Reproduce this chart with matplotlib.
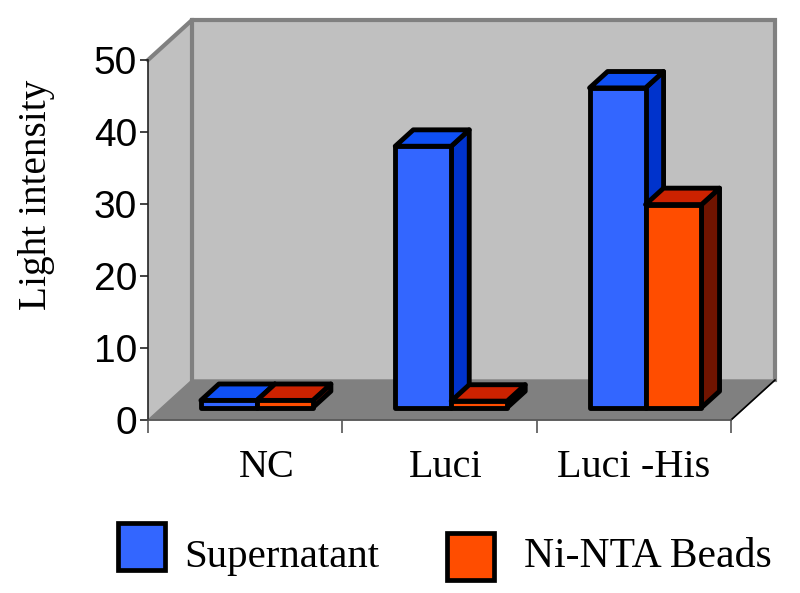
import matplotlib
matplotlib.use("Agg")
import matplotlib.pyplot as plt
from matplotlib.patches import Polygon, Rectangle
from matplotlib.transforms import Affine2D

categories = ["NC", "Luci", "Luci -His"]
supernatant = [1.0, 36.3, 44.4]
beads = [1.0, 0.9, 28.2]
series_names = ["Supernatant", "Ni-NTA Beads"]
y_ticks = [0, 10, 20, 30, 40, 50]
x_edges = [0, 1, 2, 3]
label_pos = [0.61, 1.53, 2.5]

W, H = 800, 593
fig = plt.figure(figsize=(W / 100, H / 100), dpi=100, facecolor="white")
ax = fig.add_axes([148 / W, 1 - 420 / H, 583 / W, 360 / H])
ax.set_xlim(0, 3)
ax.set_ylim(0, 50)
ax.patch.set_visible(False)

DX, DY = 44 / 194.33, 40 / 7.2   # full chart depth, data units
D0, D1 = 0.31, 0.72              # bar depth span
BW = 0.288
SHIFT = -0.010


def P(x, y, d):
    return (x + d * DX, y + d * DY)


def poly(pts, fc, ec, lw, z):
    ax.add_patch(Polygon(pts, closed=True, facecolor=fc, edgecolor=ec, linewidth=lw,
                         joinstyle="round", clip_on=False, zorder=z))


# walls and floor
GR = "#808080"
poly([P(0, 0, 0), P(0, 50, 0), P(0, 50, 1), P(0, 0, 1)], "#C0C0C0", "none", 0, 1)
poly([P(0, 0, 1), P(0, 50, 1), P(3, 50, 1), P(3, 0, 1)], "#C0C0C0", "none", 0, 1)
poly([P(0, 0, 0), P(3, 0, 0), P(3, 0, 1), P(0, 0, 1)], GR, GR, 1, 2)
rim = [P(0, 50, 0), P(0, 50, 1), P(3, 50, 1), P(3, 0, 1)]
ax.plot([p[0] for p in rim], [p[1] for p in rim], color=GR, lw=3.0, clip_on=False,
        zorder=1.5, solid_joinstyle="miter")
inner = [P(0, 50, 1), P(0, 0, 1)]
ax.plot([p[0] for p in inner], [p[1] for p in inner], color=GR, lw=3.0, clip_on=False, zorder=1.5)
edge = [P(3, 0, 0), P(3, 0, 1)]
ax.plot([p[0] for p in edge], [p[1] for p in edge], color="black", lw=1.2, clip_on=False, zorder=3)


def bar(x, v, front, top, side, z):
    e = "black"
    lw = 3.5
    poly([P(x + BW, 0, D0), P(x + BW, v, D0), P(x + BW, v, D1), P(x + BW, 0, D1)], side, e, lw, z)
    poly([P(x, v, D0), P(x + BW, v, D0), P(x + BW, v, D1), P(x, v, D1)], top, e, lw, z)
    poly([P(x, 0, D0), P(x + BW, 0, D0), P(x + BW, v, D0), P(x, v, D0)], front, e, lw, z)


BLUE = ("#3366FF", "#0F50F5", "#0033CC")
ORANGE = ("#FF4D00", "#CC2200", "#701400")
for i in range(len(categories)):
    left = x_edges[i] + 0.5 - BW + SHIFT
    bar(left, supernatant[i], *BLUE, 5 + i)
    bar(left + BW, beads[i], *ORANGE, 5 + i + 0.5)

for s in ("top", "right"):
    ax.spines[s].set_visible(False)
ax.spines["left"].set_linewidth(1.2)
ax.spines["bottom"].set_linewidth(1.2)
ax.spines["left"].set_color("#222222")
ax.spines["bottom"].set_color("#555555")
ax.spines["left"].set_zorder(20)
ax.spines["bottom"].set_zorder(20)

ax.set_yticks(y_ticks)
ax.tick_params(axis="y", length=6, width=1.2, color="#222222", pad=2, labelsize=28)
for t in ax.get_yticklabels():
    t.set_family("Liberation Sans")
ax.set_xticks(x_edges)
ax.set_xticklabels([])
ax.tick_params(axis="x", which="major", length=9, width=1.2, color="#555555")
ax.set_xticks(label_pos, labels=categories, minor=True)
ax.tick_params(axis="x", which="minor", length=0, pad=21, labelsize=29)
for t in ax.get_xticklabels(minor=True):
    t.set_family("Liberation Serif")

fig.text(37 / W, 1 - 195 / H, "Light intensity", rotation=90, ha="center", va="center",
         family="Liberation Serif", fontsize=28.3)

# legend
px = Affine2D().scale(1, -1).translate(0, H)
for (x, y), c in zip([(118, 523), (447, 533)], [BLUE[0], ORANGE[0]]):
    fig.add_artist(Rectangle((x, y), 47, 47, transform=px, facecolor=c, edgecolor="black",
                             linewidth=3.4, joinstyle="miter"))
fig.text(184 / W, 1 - 557 / H, series_names[0], family="Liberation Serif", fontsize=29.4,
         ha="left", va="center")
fig.text(524 / W, 1 - 557 / H, series_names[1], family="Liberation Serif", fontsize=30,
         ha="left", va="center")

fig.savefig("out.png", dpi=100)
